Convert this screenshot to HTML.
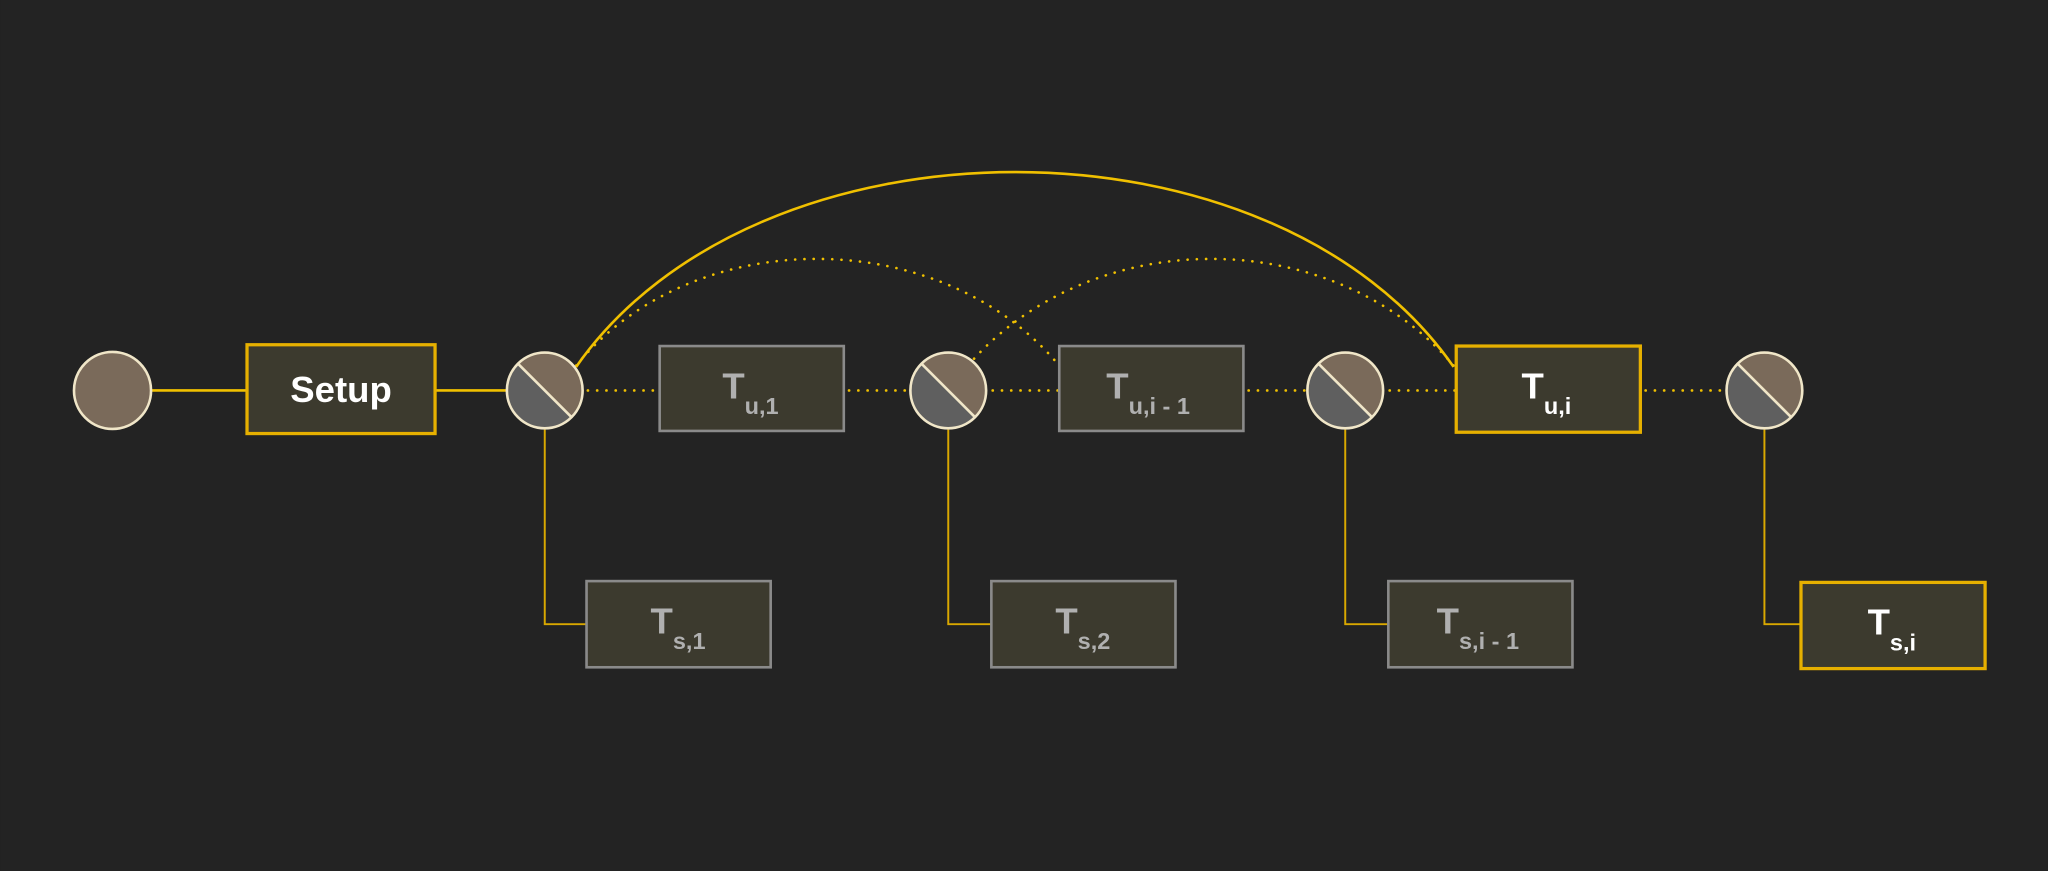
<!DOCTYPE html>
<html><head><meta charset="utf-8"><style>
html,body{margin:0;padding:0;background:#232323;}
svg{display:block}
text{font-family:"Liberation Sans",sans-serif;font-weight:bold}
</style></head><body>
<svg width="2048" height="871" viewBox="0 0 1568 667" xmlns="http://www.w3.org/2000/svg">
<rect width="1568" height="667" fill="#232323"/>
<defs>
<g id="sc">
<circle r="29" fill="#5f5f5f"/>
<path d="M-20.5,-20.5 A29,29 0 0 1 20.5,20.5 Z" fill="#7a6a5a"/>
<line x1="-20.5" y1="-20.5" x2="20.5" y2="20.5" stroke="#f0e6c8" stroke-width="2"/>
<circle r="29" fill="none" stroke="#f0e6c8" stroke-width="2"/>
</g>
</defs>
<g stroke="#f0c000" stroke-width="2" fill="none">
<line x1="116" y1="299" x2="189" y2="299"/>
<line x1="333" y1="299" x2="388" y2="299"/>
<path d="M441 281 C 580 82 975 82 1113 281"/>
</g>
<g stroke="#f0c000" stroke-width="2" fill="none" stroke-dasharray="0.1 7" stroke-linecap="round">
<path d="M441 280 C 530 171 720 171 811 280"/>
<path d="M741 280 C 835 171 1020 171 1113 280"/>
<line x1="450" y1="299" x2="505" y2="299"/>
<line x1="650" y1="299" x2="696" y2="299"/>
<line x1="760" y1="299" x2="811" y2="299"/>
<line x1="956" y1="299" x2="1000" y2="299"/>
<line x1="1064" y1="299" x2="1115" y2="299"/>
<line x1="1260" y1="299" x2="1321" y2="299"/>
</g>
<g stroke="#d9a800" stroke-width="1.5" fill="none">
<polyline points="417,329 417,478 449,478"/>
<polyline points="726,329 726,478 759,478"/>
<polyline points="1030,329 1030,478 1063,478"/>
<polyline points="1351,329 1351,478 1379,478"/>
</g>
<circle cx="86" cy="299" r="29.5" fill="#7a6a5a" stroke="#f0e6c8" stroke-width="2"/>
<use href="#sc" x="417" y="299"/>
<use href="#sc" x="726" y="299"/>
<use href="#sc" x="1030" y="299"/>
<use href="#sc" x="1351" y="299"/>
<rect x="189" y="264" width="144" height="68" fill="#3c3a2e" stroke="#e6b000" stroke-width="2.5"/>
<text x="261" y="308" fill="#fff" font-size="28" text-anchor="middle">Setup</text>
<g fill="#3c3a2e" stroke="#8a8a8a" stroke-width="2">
<rect x="505" y="265" width="141" height="65"/>
<rect x="811" y="265" width="141" height="65"/>
<rect x="449" y="445" width="141" height="66"/>
<rect x="759" y="445" width="141" height="66"/>
<rect x="1063" y="445" width="141" height="66"/>
</g>
<g fill="#3c3a2e" stroke="#e6b000" stroke-width="2.5">
<rect x="1115" y="265" width="141" height="66"/>
<rect x="1379" y="446" width="141" height="66"/>
</g>
<g fill="#b0b0b0" font-size="28">
<text x="553" y="305">T<tspan font-size="18" dy="12">u,1</tspan></text>
<text x="847" y="305">T<tspan font-size="18" dy="12">u,i - 1</tspan></text>
<text x="498" y="485">T<tspan font-size="18" dy="12">s,1</tspan></text>
<text x="808" y="485">T<tspan font-size="18" dy="12">s,2</tspan></text>
<text x="1100" y="485">T<tspan font-size="18" dy="12">s,i - 1</tspan></text>
</g>
<g fill="#ffffff" font-size="28">
<text x="1165" y="305">T<tspan font-size="18" dy="12">u,i</tspan></text>
<text x="1430" y="486">T<tspan font-size="18" dy="12">s,i</tspan></text>
</g>
</svg>
</body></html>
